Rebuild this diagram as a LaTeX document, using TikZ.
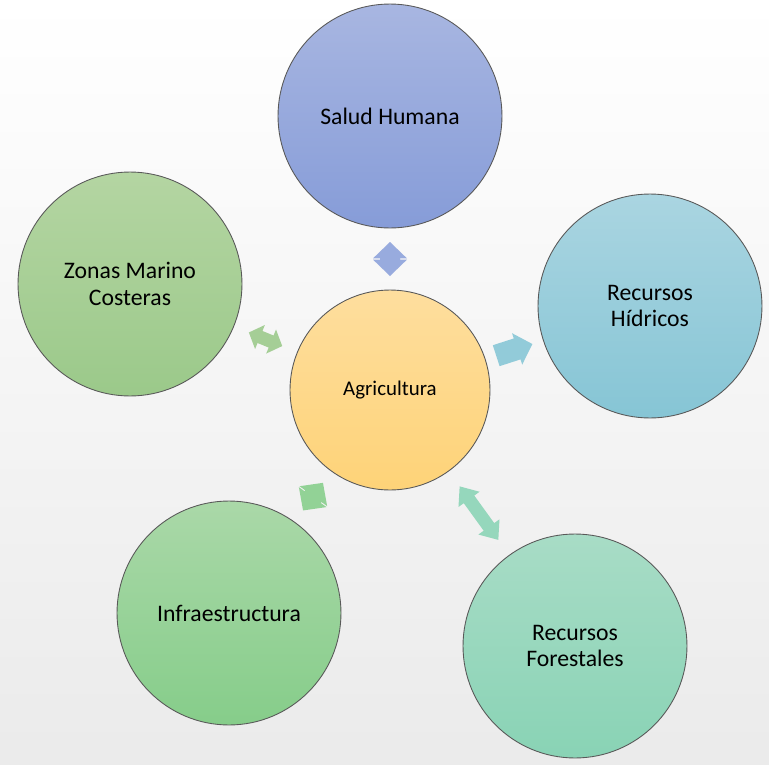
\documentclass[tikz,border=0pt]{standalone}
\usepackage{fontspec}
\setmainfont{Carlito}

\definecolor{saludA}{RGB}{168,182,225}
\definecolor{saludB}{RGB}{134,156,216}
\definecolor{zonasA}{RGB}{180,213,162}
\definecolor{zonasB}{RGB}{155,201,138}
\definecolor{hidroA}{RGB}{170,213,225}
\definecolor{hidroB}{RGB}{134,197,213}
\definecolor{agriA}{RGB}{254,222,158}
\definecolor{agriB}{RGB}{254,211,120}
\definecolor{infraA}{RGB}{170,216,168}
\definecolor{infraB}{RGB}{134,205,138}
\definecolor{forestA}{RGB}{168,220,198}
\definecolor{forestB}{RGB}{137,211,181}

\tikzset{
  tema/.style={circle, draw=black!65, line width=0.5pt, minimum size=4.48cm,
    align=center, font=\fontsize{13.5}{15.3}\selectfont},
  pics/dblarr/.style n args={4}{code={
    \fill[pic actions] (-#1,0) -- (-#1+#2,#3) -- (-#1+#2,#4) -- (#1-#2,#4) -- (#1-#2,#3)
      -- (#1,0) -- (#1-#2,-#3) -- (#1-#2,-#4) -- (-#1+#2,-#4) -- (-#1+#2,-#3) -- cycle;
  }},
  pics/onearr/.style n args={4}{code={
    \fill[pic actions] (-#1,#4) -- (#1-#2,#4) -- (#1-#2,#3) -- (#1,0)
      -- (#1-#2,-#3) -- (#1-#2,-#4) -- (-#1,-#4) -- cycle;
  }},
}

\begin{document}
\begin{tikzpicture}[x=0.02cm,y=-0.02cm]

\useasboundingbox (0,0) rectangle (769,765);
\shade[top color=white, middle color=white, bottom color=black!8] (0,0) rectangle (769,765);

\node[tema, top color=saludA, bottom color=saludB] (salud) at (390,116) {Salud Humana};
\node[tema, top color=zonasA, bottom color=zonasB] (zonas) at (130,284) {Zonas Marino\\Costeras};
\node[tema, top color=hidroA, bottom color=hidroB] (hidro) at (650,306) {Recursos\\Hídricos};
\node[tema, top color=infraA, bottom color=infraB] (infra) at (229,613) {Infraestructura};
\node[tema, top color=forestA, bottom color=forestB] (forest) at (575,646) {Recursos\\Forestales};
\node[tema, minimum size=4cm, font=\fontsize{11.9}{14}\selectfont,
  top color=agriA, bottom color=agriB] (agri) at (390,390) {Agricultura};

% flechas entre los temas
\path (agri) -- (salud) pic[midway, sloped, fill=saludB!85!white] {dblarr={17}{16.4}{17}{10}};
\path (agri) -- (zonas) pic[midway, sloped, fill=zonasB!90!white] {dblarr={18}{12}{13}{6.5}};
\path (agri) -- (hidro) pic[midway, sloped, fill=hidroB!90!white] {onearr={19}{16}{16.5}{11}};
\path (agri) -- (forest) pic[midway, sloped, fill=forestB!90!white] {dblarr={33}{16}{13}{6.5}};
\path (agri) -- (infra) pic[midway, sloped, fill=infraB!90!white] {dblarr={17}{16.4}{17}{10}};

\end{tikzpicture}
\end{document}
